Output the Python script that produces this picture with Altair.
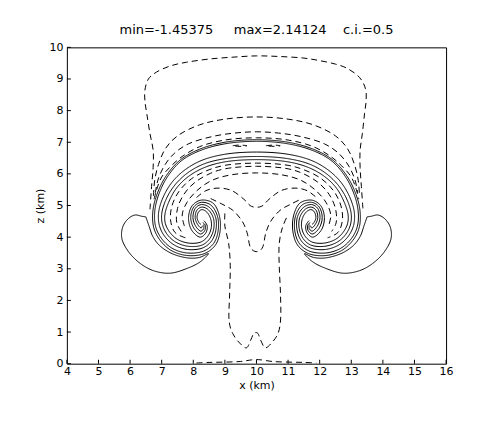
import altair as alt
import pandas as pd

# ---- axis tick values ----
x_ticks = [4, 5, 6, 7, 8, 9, 10, 11, 12, 13, 14, 15, 16]
z_ticks = [0, 1, 2, 3, 4, 5, 6, 7, 8, 9, 10]

title_text = "min=-1.45375\u00a0\u00a0\u00a0\u00a0\u00a0max=2.14124\u00a0\u00a0\u00a0\u00a0c.i.=0.5"

# ---- positive contours (solid) as (x km, z km) ----
solid_1 = [(8.34,4.52),(8.44,4.36),(8.4,4.14),(8.22,4.0),(7.95,4.22),(7.85,4.62),(7.97,5.0),(8.25,5.17),(8.62,5.08),(8.82,4.7),(8.85,4.2),(8.7,3.75),(8.35,3.48),(7.8,3.42),(7.3,3.58),(6.95,3.9),(6.75,4.3),(6.72,4.8),(6.85,5.35),(7.15,5.95),(7.6,6.45),(8.2,6.78),(9.0,7.0),(10.0,7.08),(11.0,7.0),(11.8,6.78),(12.4,6.45),(12.85,5.95),(13.15,5.35),(13.28,4.8),(13.25,4.3),(13.05,3.9),(12.7,3.58),(12.2,3.42),(11.65,3.48),(11.3,3.75),(11.15,4.2),(11.18,4.7),(11.38,5.08),(11.75,5.17),(12.03,5.0),(12.15,4.62),(12.05,4.22),(11.78,4.0),(11.6,4.14),(11.56,4.36),(11.66,4.52)]
solid_2 = [(8.3,4.46),(8.38,4.38),(8.36,4.2),(8.23,4.1),(8.02,4.28),(7.92,4.62),(8.02,4.96),(8.25,5.1),(8.55,5.02),(8.76,4.68),(8.79,4.22),(8.65,3.81),(8.33,3.56),(7.8,3.5),(7.33,3.65),(7.0,3.95),(6.81,4.33),(6.78,4.8),(6.9,5.33),(7.19,5.92),(7.62,6.41),(8.2,6.73),(9.0,6.95),(10.0,7.03),(11.0,6.95),(11.8,6.73),(12.38,6.41),(12.81,5.92),(13.1,5.33),(13.22,4.8),(13.19,4.33),(13.0,3.95),(12.67,3.65),(12.2,3.5),(11.67,3.56),(11.35,3.81),(11.21,4.22),(11.24,4.68),(11.45,5.02),(11.75,5.1),(11.98,4.96),(12.08,4.62),(11.98,4.28),(11.77,4.1),(11.64,4.2),(11.62,4.38),(11.7,4.46)]
solid_3 = [(8.33,4.4),(8.33,4.27),(8.24,4.19),(8.08,4.34),(7.99,4.62),(8.07,4.92),(8.26,5.03),(8.5,4.95),(8.7,4.65),(8.72,4.25),(8.58,3.88),(8.3,3.66),(7.82,3.61),(7.4,3.75),(7.1,4.02),(6.93,4.36),(6.9,4.75),(7.02,5.2),(7.3,5.7),(7.7,6.1),(8.25,6.42),(9.0,6.62),(10.0,6.69),(11.0,6.62),(11.75,6.42),(12.3,6.1),(12.7,5.7),(12.98,5.2),(13.1,4.75),(13.07,4.36),(12.9,4.02),(12.6,3.75),(12.18,3.61),(11.7,3.66),(11.42,3.88),(11.28,4.25),(11.3,4.65),(11.5,4.95),(11.74,5.03),(11.93,4.92),(12.01,4.62),(11.92,4.34),(11.76,4.19),(11.67,4.27),(11.67,4.4)]
solid_4 = [(8.29,4.36),(8.25,4.29),(8.14,4.4),(8.06,4.62),(8.12,4.86),(8.27,4.95),(8.46,4.88),(8.63,4.62),(8.65,4.28),(8.52,3.95),(8.28,3.75),(7.85,3.71),(7.45,3.84),(7.18,4.08),(7.03,4.38),(7.0,4.72),(7.12,5.15),(7.38,5.6),(7.78,6.0),(8.3,6.3),(9.0,6.48),(10.0,6.55),(11.0,6.48),(11.7,6.3),(12.22,6.0),(12.62,5.6),(12.88,5.15),(13.0,4.72),(12.97,4.38),(12.82,4.08),(12.55,3.84),(12.15,3.71),(11.72,3.75),(11.48,3.95),(11.35,4.28),(11.37,4.62),(11.54,4.88),(11.73,4.95),(11.88,4.86),(11.94,4.62),(11.86,4.4),(11.75,4.29),(11.71,4.36)]
solid_5 = [(8.24,4.4),(8.18,4.46),(8.12,4.62),(8.17,4.8),(8.27,4.87),(8.42,4.8),(8.55,4.58),(8.57,4.3),(8.46,4.03),(8.25,3.85),(7.87,3.81),(7.5,3.93),(7.26,4.15),(7.12,4.42),(7.1,4.7),(7.22,5.1),(7.47,5.55),(7.85,5.92),(8.35,6.2),(9.0,6.38),(10.0,6.45),(11.0,6.38),(11.65,6.2),(12.15,5.92),(12.53,5.55),(12.78,5.1),(12.9,4.7),(12.88,4.42),(12.74,4.15),(12.5,3.93),(12.13,3.81),(11.75,3.85),(11.54,4.03),(11.43,4.3),(11.45,4.58),(11.58,4.8),(11.73,4.87),(11.83,4.8),(11.88,4.62),(11.82,4.46),(11.76,4.4)]
lobe_left = [(6.5,4.64),(6.6,4.35),(6.72,4.02),(6.95,3.72),(7.35,3.47),(7.85,3.34),(8.2,3.36),(8.48,3.48),(8.22,3.22),(7.8,3.01),(7.26,2.86),(6.74,2.94),(6.32,3.17),(5.95,3.54),(5.74,3.96),(5.77,4.33),(5.95,4.59),(6.16,4.7),(6.37,4.66),(6.5,4.64)]
lobe_right = [(13.5,4.64),(13.4,4.35),(13.28,4.02),(13.05,3.72),(12.65,3.47),(12.15,3.34),(11.8,3.36),(11.52,3.48),(11.78,3.22),(12.2,3.01),(12.74,2.86),(13.26,2.94),(13.68,3.17),(14.05,3.54),(14.26,3.96),(14.23,4.33),(14.05,4.59),(13.84,4.7),(13.63,4.66),(13.5,4.64)]

# ---- negative contours (dashed) ----
envelope = [(6.63,4.88),(6.68,5.6),(6.73,6.2),(6.73,6.75),(6.63,7.27),(6.53,7.9),(6.47,8.3),(6.47,8.65),(6.58,9.0),(6.84,9.22),(7.3,9.42),(7.79,9.53),(8.5,9.63),(9.26,9.69),(10.0,9.73),(10.74,9.71),(11.5,9.66),(12.0,9.58),(12.5,9.47),(12.84,9.35),(13.26,9.05),(13.45,8.69),(13.47,8.32),(13.42,7.9),(13.35,7.27),(13.28,6.75),(13.28,6.2),(13.32,5.6),(13.37,4.88)]
dashed_2 = [(6.74,5.3),(6.78,5.8),(6.9,6.3),(7.12,6.8),(7.5,7.2),(8.2,7.55),(9.0,7.73),(10.0,7.8),(11.0,7.73),(11.8,7.55),(12.5,7.2),(12.88,6.8),(13.1,6.3),(13.22,5.8),(13.26,5.3)]
dashed_3 = [(6.8,5.4),(6.88,5.8),(7.08,6.25),(7.4,6.65),(7.85,6.95),(8.6,7.18),(9.3,7.29),(10.0,7.33),(10.7,7.29),(11.4,7.18),(12.15,6.95),(12.6,6.65),(12.92,6.25),(13.12,5.8),(13.2,5.4)]
dashed_4 = [(6.76,5.2),(6.84,5.5),(7.0,5.9),(7.3,6.25),(7.65,6.55),(8.2,6.86),(9.0,7.07),(10.0,7.14),(11.0,7.07),(11.8,6.86),(12.35,6.55),(12.7,6.25),(13.0,5.9),(13.16,5.5),(13.24,5.2)]
inner_1 = [(7.75,3.98),(7.42,4.15),(7.28,4.55),(7.33,5.0),(7.55,5.45),(7.95,5.85),(8.5,6.13),(9.0,6.27),(10.0,6.34),(11.0,6.27),(11.5,6.13),(12.05,5.85),(12.45,5.45),(12.67,5.0),(12.72,4.55),(12.58,4.15),(12.25,3.98)]
inner_2 = [(7.62,4.18),(7.48,4.45),(7.5,4.9),(7.7,5.35),(8.05,5.73),(8.55,6.02),(9.0,6.16),(10.0,6.24),(11.0,6.16),(11.45,6.02),(11.95,5.73),(12.3,5.35),(12.5,4.9),(12.52,4.45),(12.38,4.18)]
inner_3 = [(7.72,4.35),(7.65,4.7),(7.8,5.1),(8.15,5.5),(8.6,5.8),(9.2,5.97),(10.0,6.03),(10.8,5.97),(11.4,5.8),(11.85,5.5),(12.2,5.1),(12.35,4.7),(12.28,4.35)]
shallow_v = [(8.1,5.25),(8.4,5.47),(8.75,5.55),(9.2,5.48),(9.6,5.2),(9.85,4.97),(10.15,4.97),(10.4,5.2),(10.8,5.48),(11.25,5.55),(11.6,5.47),(11.9,5.25)]
deep_v = [(8.55,5.22),(8.9,5.05),(9.25,4.85),(9.55,4.5),(9.7,4.15),(9.82,3.65),(9.95,3.55),(10.05,3.55),(10.18,3.65),(10.3,4.15),(10.45,4.5),(10.75,4.85),(11.1,5.05),(11.45,5.22)]
stem = [(9.0,4.75),(9.0,4.35),(9.12,3.8),(9.17,3.1),(9.15,2.2),(9.14,1.3),(9.25,0.95),(9.47,0.65),(9.68,0.5),(9.82,0.75),(9.93,0.97),(10.03,0.97),(10.13,0.75),(10.28,0.5),(10.5,0.68),(10.68,0.95),(10.76,1.35),(10.76,2.2),(10.72,3.1),(10.72,3.8),(10.82,4.3),(11.0,4.72)]
ground = [(8.1,0.02),(8.5,0.04),(9.0,0.05),(9.5,0.07),(9.85,0.12),(10.0,0.13),(10.15,0.12),(10.5,0.07),(11.0,0.05),(11.5,0.04),(11.9,0.02)]
blip_left = [(9.25,6.89),(9.45,6.91),(9.7,6.89),(9.45,6.87),(9.25,6.89)]
blip_right = [(10.3,6.89),(10.55,6.91),(10.75,6.89),(10.55,6.87),(10.3,6.89)]

contours = [
    ("s1", "solid", solid_1), ("s2", "solid", solid_2), ("s3", "solid", solid_3),
    ("s4", "solid", solid_4), ("s5", "solid", solid_5),
    ("lobeL", "solid", lobe_left), ("lobeR", "solid", lobe_right),
    ("env", "dashed", envelope), ("d2", "dashed", dashed_2), ("d3", "dashed", dashed_3),
    ("d4", "dashed", dashed_4), ("i1", "dashed", inner_1), ("i2", "dashed", inner_2),
    ("i3", "dashed", inner_3), ("sv", "dashed", shallow_v), ("dv", "dashed", deep_v),
    ("stem", "dashed", stem), ("ground", "dashed", ground),
    ("bl", "dashed", blip_left), ("br", "dashed", blip_right),
]

rows = []
for cid, style, pts in contours:
    for i, (x, z) in enumerate(pts):
        rows.append({"cid": cid, "style": style, "i": i, "x": x, "z": z})
df = pd.DataFrame(rows)

xscale = alt.Scale(domain=[4, 16], nice=False, zero=False)
yscale = alt.Scale(domain=[0, 10], nice=False, zero=False)

xaxis = alt.Axis(values=x_ticks, format="d", title="x (km)",
                 labelOverlap=False, labelFlush=False,
                 labelPadding=2, titlePadding=3)
yaxis = alt.Axis(values=z_ticks, format="d", title="z (km)",
                 labelOverlap=False, labelFlush=False,
                 labelPadding=4, titlePadding=3)

lines = alt.Chart(df).mark_line(
    clip=True, strokeWidth=1, color="black", interpolate="catmull-rom"
).encode(
    x=alt.X("x:Q", scale=xscale, axis=xaxis),
    y=alt.Y("z:Q", scale=yscale, axis=yaxis),
    detail="cid:N",
    order="i:Q",
    strokeDash=alt.StrokeDash("style:N",
                              scale=alt.Scale(domain=["solid", "dashed"],
                                              range=[[1, 0], [6, 4]]),
                              legend=None),
)

xt = alt.Chart(pd.DataFrame({"t": x_ticks})).mark_tick(
    color="black", thickness=1, size=4, opacity=1
).encode(x=alt.X("t:Q", scale=xscale, axis=xaxis, title="x (km)"), y=alt.value(315))

zt = alt.Chart(pd.DataFrame({"t": z_ticks})).mark_tick(
    color="black", thickness=1, size=4, opacity=1
).encode(y=alt.Y("t:Q", scale=yscale, axis=yaxis, title="z (km)"), x=alt.value(2))

chart = alt.layer(lines, xt, zt).properties(
    width=380, height=317,
    title=alt.Title(title_text),
    autosize=alt.AutoSizeParams(type="none"),
    padding={"left": 59, "top": 39, "right": 33, "bottom": 53},
).configure_view(
    stroke="black", strokeWidth=1
).configure_axis(
    domain=False, ticks=False, tickSize=0, grid=False,
    labelOverlap=False,
    labelFont="DejaVu Sans", labelFontSize=11, labelColor="black",
    titleFont="DejaVu Sans", titleFontSize=11, titleFontWeight="normal",
    titleColor="black",
).configure_title(
    font="DejaVu Sans", fontSize=13, fontWeight="normal", color="black",
    anchor="middle", offset=4,
)

chart.save("out.html", embed_options={"renderer": "svg", "actions": False})
